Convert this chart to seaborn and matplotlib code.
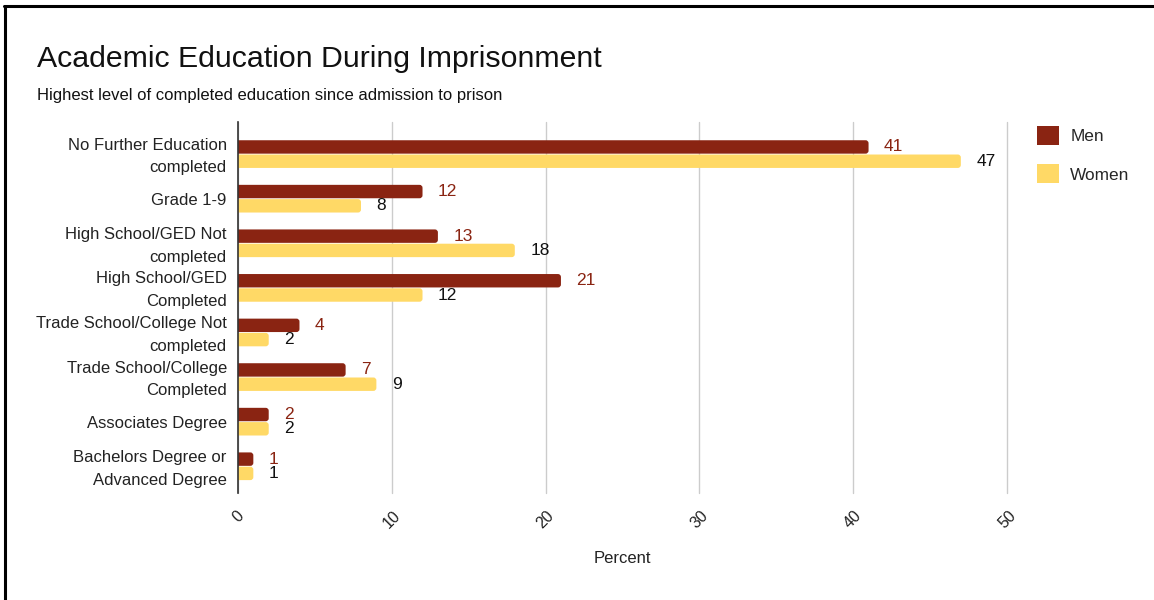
import matplotlib
matplotlib.use("Agg")
import matplotlib.pyplot as plt
import matplotlib.transforms as mtransforms
from matplotlib.patches import FancyBboxPatch, Patch
import seaborn as sns
import pandas as pd

categories = [
    "No Further Education\ncompleted",
    "Grade 1-9",
    "High School/GED Not\ncompleted",
    "High School/GED\nCompleted",
    "Trade School/College Not\ncompleted",
    "Trade School/College\nCompleted",
    "Associates Degree",
    "Bachelors Degree or\nAdvanced Degree",
]
men = [41, 12, 13, 21, 4, 7, 2, 1]
women = [47, 8, 18, 12, 2, 9, 2, 1]
series = ["Men", "Women"]
colors = {"Men": "#8a2412", "Women": "#ffd966"}
label_colors = {"Men": "#8a2412", "Women": "#111111"}
x_ticks = [0, 10, 20, 30, 40, 50]

df = pd.DataFrame({
    "category": categories * 2,
    "group": ["Men"] * len(men) + ["Women"] * len(women),
    "value": men + women,
})

sns.set_theme(style="white")
plt.rcParams["font.family"] = ["Liberation Sans", "DejaVu Sans"]

fig = plt.figure(figsize=(11.54, 6.0), dpi=100)
ax = fig.add_axes([0.2062, 0.1783, 0.6664, 0.6184])

sns.barplot(data=df, y="category", x="value", hue="group", order=categories,
            hue_order=series, palette=colors, orient="h", width=0.64, gap=0.06,
            legend=False, ax=ax, saturation=1)

ax.set_xlim(0, 50)
ax.set_ylim(7.6, -0.72)

# Replace plain rectangles with bars that have softly rounded ends
px_x = ax.get_position().width * fig.bbox.width / 50.0
px_y = ax.get_position().height * fig.bbox.height / 8.32
radius_px = 3.0
r = radius_px / px_x
aspect = px_x / px_y
for patch in list(ax.patches):
    x0, y0 = patch.get_x(), patch.get_y()
    w, h = patch.get_width(), patch.get_height()
    fc = patch.get_facecolor()
    patch.remove()
    fb = FancyBboxPatch((x0 - r, y0), w + r, h,
                        boxstyle=f"round,pad=0,rounding_size={r}",
                        mutation_aspect=aspect, facecolor=fc, edgecolor="none",
                        zorder=2)
    ax.add_patch(fb)

# value labels
bar_h = 0.64 / 2
for gi, (name, vals) in enumerate(zip(series, [men, women])):
    for i, v in enumerate(vals):
        yc = i - 0.64 / 2 + bar_h * (gi + 0.5)
        ax.text(v + 1.0, yc, str(v), va="center", ha="left", fontsize=12.5,
                color=label_colors[name])

ax.set_xticks(x_ticks)
ax.set_xticklabels([str(t) for t in x_ticks], rotation=45, fontsize=11.5,
                   color="#222222")
ax.tick_params(axis="x", length=0, pad=11)
ax.tick_params(axis="y", length=0, pad=8, labelsize=12, labelcolor="#222222")
lift = mtransforms.ScaledTranslation(0, 3 / 100, fig.dpi_scale_trans)
for lbl in ax.get_yticklabels():
    lbl.set_multialignment("right")
    lbl.set_linespacing(1.65)
    if "\n" in lbl.get_text():
        lbl.set_transform(lbl.get_transform() + lift)

ax.grid(axis="x", color="#cccccc", linewidth=1)
for gl in ax.get_xgridlines():
    gl.set_clip_on(False)
ax.set_axisbelow(True)
for s in ["top", "right", "bottom"]:
    ax.spines[s].set_visible(False)
ax.spines["left"].set_color("#333333")
ax.spines["left"].set_linewidth(1.2)
ax.spines["left"].set_zorder(3)

ax.set_ylabel("")
ax.set_xlabel("Percent", fontsize=12, color="#222222", labelpad=14)

handles = [Patch(facecolor=colors[s], edgecolor="none") for s in series]
fig.legend(handles, series, loc="upper left", bbox_to_anchor=(0.885, 0.816),
           frameon=False, fontsize=12.4, handlelength=1.3, handleheight=1.3,
           labelspacing=1.15, handletextpad=0.65)

fig.text(37 / 1154, 1 - 67 / 600, "Academic Education During Imprisonment",
         fontsize=21.8, color="#111111", ha="left", va="baseline")
fig.text(37 / 1154, 1 - 100 / 600,
         "Highest level of completed education since admission to prison",
         fontsize=12, color="#111111", ha="left", va="baseline")

# frame lines along the top and left edges
fig.add_artist(plt.Line2D([4 / 1154, 1], [1 - 6 / 600, 1 - 6 / 600],
                          color="black", linewidth=2.2, transform=fig.transFigure))
fig.add_artist(plt.Line2D([5 / 1154, 5 / 1154], [0, 1 - 6 / 600],
                          color="black", linewidth=2.2, transform=fig.transFigure))

fig.savefig("out.png", dpi=100, facecolor="white")
